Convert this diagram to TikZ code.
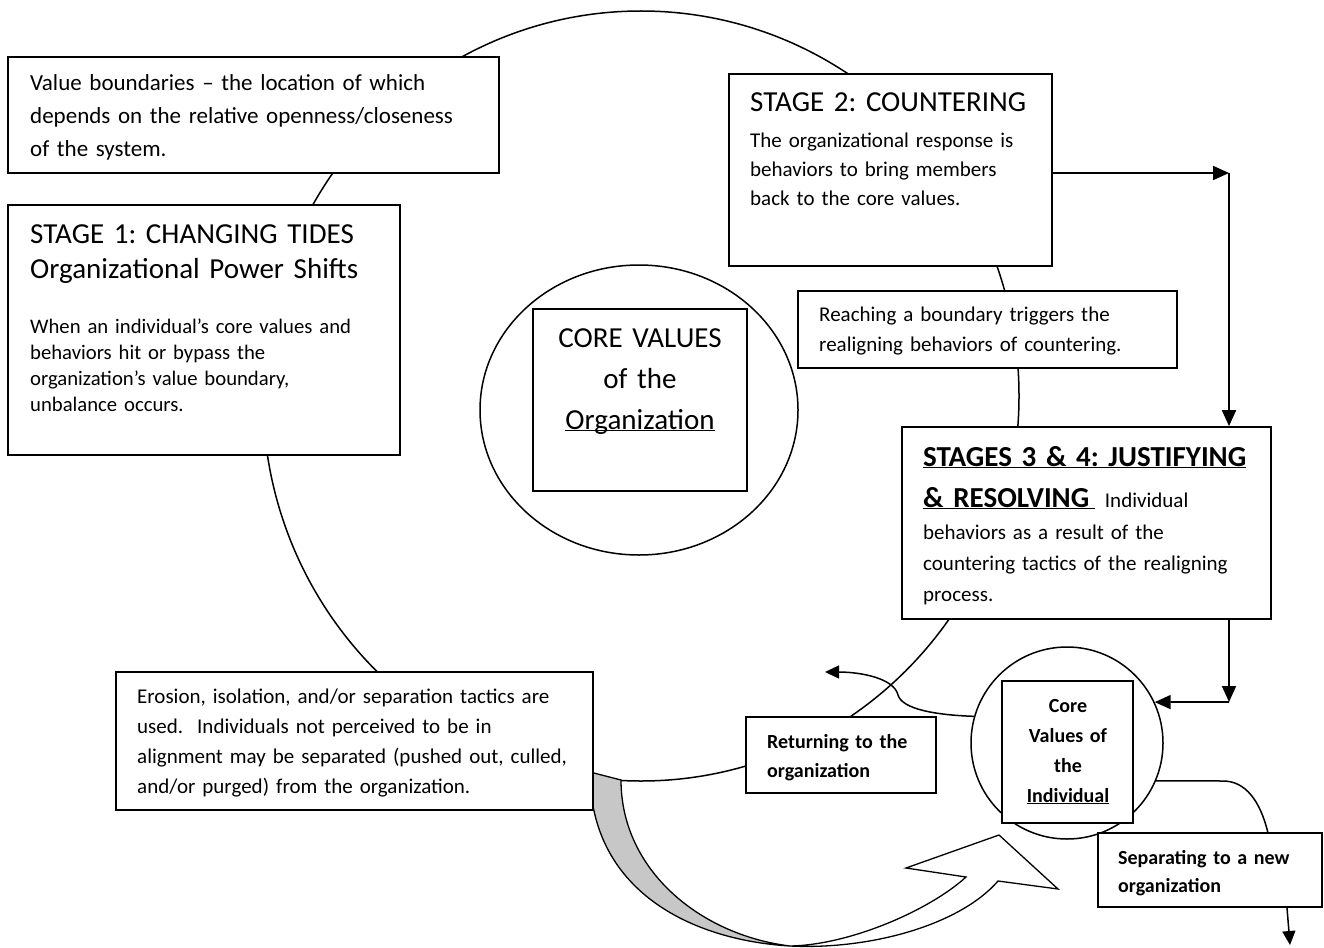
\documentclass[tikz,border=0pt]{standalone}
\usepackage{fontspec}
\setmainfont{Carlito}
\usetikzlibrary{arrows.meta,shapes.geometric}
\AtBeginDocument{\frenchspacing}
\newcommand\fvb{\fontsize{23}{33}\selectfont}
\newcommand\fhd{\fontsize{29}{35}\selectfont}
\newcommand\fsa{\fontsize{20.7}{26.3}\selectfont}
\newcommand\fsb{\fontsize{21}{29}\selectfont}
\newcommand\fsc{\fontsize{21}{30}\selectfont}
\newcommand\fsd{\fontsize{21}{31}\selectfont}
\newcommand\fbl{\bfseries\fontsize{20}{29}\selectfont}
\begin{document}
\begin{tikzpicture}[x=1pt,y=-1pt,
  box/.style={draw, line width=1.7pt, fill=white, inner sep=0pt, rectangle},
  curve/.style={line width=1.5pt},
  link/.style={line width=1.5pt},
  arr/.style={line width=1.8pt, -{Triangle[length=16pt,width=14pt]}},
  sarr/.style={line width=1.5pt, -{Triangle[length=14pt,width=13pt]}},
  txt/.style={inner sep=0pt, anchor=base west, align=left, text width=#1},
  txt/.default=440pt,
  ctxt/.style={inner sep=0pt, anchor=base, align=center, text width=#1},
  ctxt/.default=200pt,
]
\useasboundingbox[fill=white] (0,0) rectangle (1324,947);

% big value-boundary ellipse
\node[draw, ellipse, curve, inner sep=0pt, minimum width=756pt, minimum height=770pt] (bigc) at (641,396) {};

% curved block arrow (gray back + white front with arrowhead)
\path[draw, line width=1.3pt, fill=black!22] (590,772) .. controls (590,890) and (690,940) .. (790,946)
   .. controls (700,935) and (621,870) .. (621,780) -- cycle;
\path[draw, line width=1.3pt, fill=white] (790,946) .. controls (870,950) and (960,925) .. (998,881)
   -- (1058,889) -- (999,835) -- (906,868) -- (966,877)
   .. controls (930,910) and (850,945) .. (790,946) -- cycle;

% core values of the organization
\node[draw, ellipse, curve, fill=white, inner sep=0pt, minimum width=318pt, minimum height=290pt] (orgc) at (639,410) {};
\node[box, minimum width=214pt, minimum height=182pt] (orgbox) at (640,400) {};

% boxes
\node[box, minimum width=491pt, minimum height=116pt] (vb) at (253.5,115) {};
\node[box, minimum width=392pt, minimum height=250pt] (s1) at (204,330) {};
\node[box, minimum width=323pt, minimum height=192pt] (s2) at (890.5,170) {};
\node[box, minimum width=379pt, minimum height=77pt] (rb) at (987.5,329.5) {};
\node[box, minimum width=369pt, minimum height=192pt] (s34) at (1086.5,523) {};
\node[box, minimum width=477pt, minimum height=138pt] (er) at (354.5,741) {};
\node[box, minimum width=190pt, minimum height=76pt] (rt) at (841,755) {};

% individual
\node[draw, circle, curve, fill=white, inner sep=0pt, minimum size=192pt] (indc) at (1067,743) {};
\node[box, minimum width=131pt, minimum height=142pt] (indbox) at (1067.5,752) {};
\node[box, minimum width=224pt, minimum height=74pt] (sp) at (1210,870) {};

% connectors
\coordinate (c1) at (1229,173);
\coordinate (c2) at (1229,702);
\coordinate (retend) at (825,672);
\coordinate (retmid) at (898,695);
\coordinate (spbend) at (1223,781);
\coordinate (spin) at (1268,833);
\coordinate (spout) at (1290,945);
\draw[arr] (s2.east |- c1) -- (c1);
\draw[arr] (c1) -- (s34.north -| c1);
\draw[arr] (s34.south -| c2) -- (c2);
\draw[arr] (c2) -- (indc.25);
\draw[sarr] (indc.164) .. controls (935,715) and (902,709) .. (retmid)
   .. controls (894,678) and (860,672) .. (retend);
\draw[link] (indc.-23) -- (spbend) .. controls (1245,781) and (1260,800) .. (spin);
\draw[sarr] (sp.south -| 1287,0) -- (spout);

% texts
\node[txt=480pt, font=\fvb] (vbt) at (30,91) {Value boundaries – the location of which\\depends on the relative openness/closeness\\of the system.};
\node[txt=380pt, font=\fhd] (s1h) at (30,243) {STAGE 1: CHANGING TIDES\\Organizational Power Shifts};
\node[txt=380pt, font=\fsa] (s1t) at (30,333) {When an individual’s core values and\\behaviors hit or bypass the\\organization’s value boundary,\\unbalance occurs.};
\node[ctxt=210pt, font=\fontsize{29}{41}\selectfont] (orgt) at (640,347) {CORE VALUES\\of the\\\underline{\smash{Organization}}};
\node[txt=300pt, font=\fhd] (s2h) at (750,112) {STAGE 2: COUNTERING};
\node[txt=300pt, font=\fsb] (s2t) at (750,147) {The organizational response is\\behaviors to bring members\\back to the core values.};
\node[txt=350pt, font=\fsc] (rbt) at (819,321) {Reaching a boundary triggers the\\realigning behaviors of countering.};
\node[txt=350pt, font=\bfseries\fontsize{29}{41}\selectfont] (s34h) at (923,466) {\underline{STAGES 3 \& 4: JUSTIFYING}};
\node[txt=350pt, font=\bfseries\fontsize{29}{41}\selectfont] (s34r) at (923,507) {\underline{\smash{\& RESOLVING}\hspace{6pt}}{\mdseries\fontsize{21}{31}\selectfont\ Individual}};
\node[txt=350pt, font=\fsd] (s34t) at (923,539) {behaviors as a result of the\\countering tactics of the realigning\\process.};
\node[ctxt=125pt, font=\bfseries\fontsize{20}{30}\selectfont] (indt) at (1068,712) {Core\\Values of\\the\\\underline{Individual}};
\node[txt=170pt, font=\fbl] (rtt) at (767,748) {Returning to the\\organization};
\node[txt=200pt, font=\bfseries\fontsize{20}{28}\selectfont] (spt) at (1118,864) {Separating to a new\\organization};
\node[txt=460pt, font=\fsc] (ert) at (137,703) {Erosion, isolation, and/or separation tactics are\\used.\ \ Individuals not perceived to be in\\alignment may be separated (pushed out, culled,\\and/or purged) from the organization.};
\end{tikzpicture}
\end{document}
